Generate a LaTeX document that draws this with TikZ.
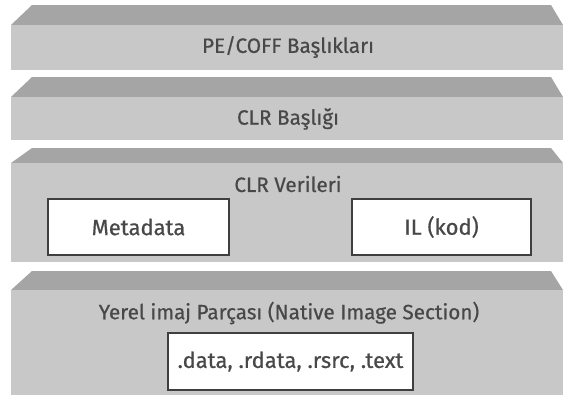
\documentclass[tikz,border=0pt]{standalone}
\usepackage{fontspec}
\setmainfont{Fira Sans}
\newfontfamily\rotulofonte{Fira Sans}[FakeBold=0.6]
\definecolor{tampa}{HTML}{A5A5A5}
\definecolor{frente}{HTML}{C8C8C8}
\definecolor{texto}{HTML}{484848}
\definecolor{borda}{HTML}{3F3F3F}
\tikzset{
	rotulo/.style={text=texto, font=\rotulofonte\fontsize{11.8}{13}\selectfont},
	caixa/.style={draw=borda, line width=1.2pt, fill=white, text=texto,
		font=\rotulofonte\fontsize{12.5}{14}\selectfont, minimum height=1.12cm}
}
\begin{document}
\begin{tikzpicture}[x=0.02cm, y=-0.02cm]

	\useasboundingbox (0,0) rectangle (563,397);

% Camadas
	\foreach \a/\b/\c in {5/25/70, 77/97/140, 148/163/262, 271/290/395} {
		\fill[tampa] (32,\a) -- (551,\a) -- (563,\b) -- (11,\b) -- cycle;
		\fill[frente] (11,\b) rectangle (563,\c);
	}

% Rotulos
	\node[rotulo] (pecoff) at (288,47) {PE/COFF Başlıkları};
	\node[rotulo] (clrbaslik) at (288,119) {CLR Başlığı};
	\node[rotulo] (clrveri) at (288,184) {CLR Verileri};
	\node[rotulo] (yerel) at (289,313) {Yerel imaj Parçası (Native Image Section)};

% Caixas
	\node[caixa, minimum width=3.62cm] (metadata) at (138.5,227) {Metadata};
	\node[caixa, minimum width=3.58cm] (il) at (441.5,227) {IL (kod)};
	\node[caixa, minimum width=4.9cm, minimum height=1.14cm] (secoes) at (290.5,361.5) {.data, .rdata, .rsrc, .text};

\end{tikzpicture}
\end{document}
